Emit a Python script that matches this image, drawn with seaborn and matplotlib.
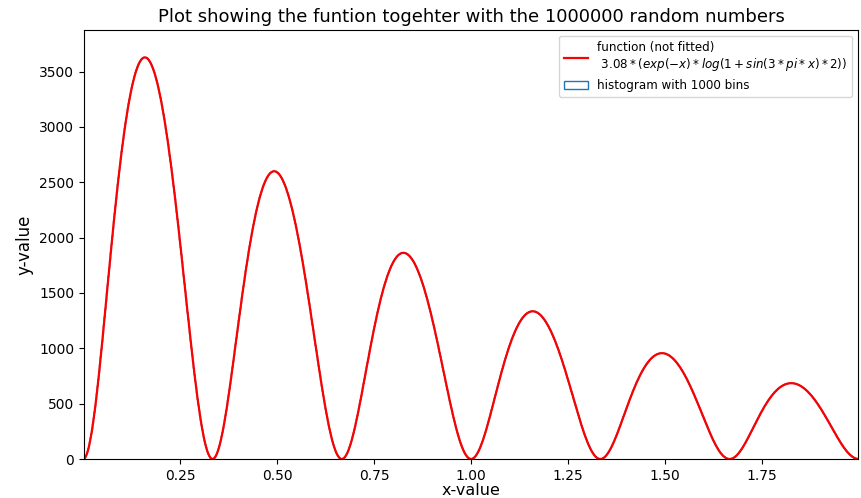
import numpy as np
import pandas as pd
import matplotlib
matplotlib.use("Agg")
import matplotlib.pyplot as plt
from matplotlib.lines import Line2D
from matplotlib.patches import Patch
import seaborn as sns

# Sample size, histogram layout and density parameters
n_samples = 1000000
n_bins = 1000
x_range = [0.0, 2.0]
amplitude = 3.08
freq = 3.0

x_ticks = [0.25, 0.50, 0.75, 1.00, 1.25, 1.50, 1.75]
x_tick_labels = ["0.25", "0.50", "0.75", "1.00", "1.25", "1.50", "1.75"]
y_ticks = [0, 500, 1000, 1500, 2000, 2500, 3000, 3500]


def density(x):
    return amplitude * np.exp(-x) * np.log(1 + np.sin(freq * np.pi * x) ** 2)


edges = np.linspace(x_range[0], x_range[1], n_bins + 1)
width = edges[1] - edges[0]
centers = 0.5 * (edges[:-1] + edges[1:])
counts = np.round(density(centers) * n_samples * width)

hist_df = pd.DataFrame({"x": centers, "count": counts})

xs = np.linspace(x_range[0], x_range[1], 2000)
curve_df = pd.DataFrame({"x": xs, "y": density(xs) * n_samples * width})

fig = plt.figure(figsize=(8.62, 4.98), dpi=100)
ax = fig.add_axes([0.0975, 0.0783, 0.898, 0.8617])

sns.histplot(data=hist_df, x="x", weights="count", bins=n_bins,
             binrange=(x_range[0], x_range[1]),
             element="step", fill=False, color="#1f77b4", linewidth=1.0, ax=ax)
sns.lineplot(data=curve_df, x="x", y="y", color="red", linewidth=1.6,
             estimator=None, sort=False, ax=ax)

ax.set_xlim(0.002, 1.998)
ax.set_ylim(0, 3877)
ax.set_xticks(x_ticks)
ax.set_xticklabels(x_tick_labels)
ax.set_yticks(y_ticks)
ax.tick_params(labelsize=10)

ax.set_title("Plot showing the funtion togehter with the 1000000 random numbers",
             fontsize=13)
ax.set_xlabel("x-value", fontsize=11.5, labelpad=0)
ax.set_ylabel("y-value", fontsize=12)

handles = [
    Line2D([], [], color="red", linewidth=1.6),
    Patch(facecolor="none", edgecolor="#1f77b4"),
]
labels = [
    "function (not fitted)\n $3.08*(exp(-x)*log(1+sin(3*pi*x)*2))$",
    "histogram with 1000 bins",
]
ax.legend(handles, labels, loc="upper right", fontsize=8.6)

fig.savefig("out.png", dpi=100)
